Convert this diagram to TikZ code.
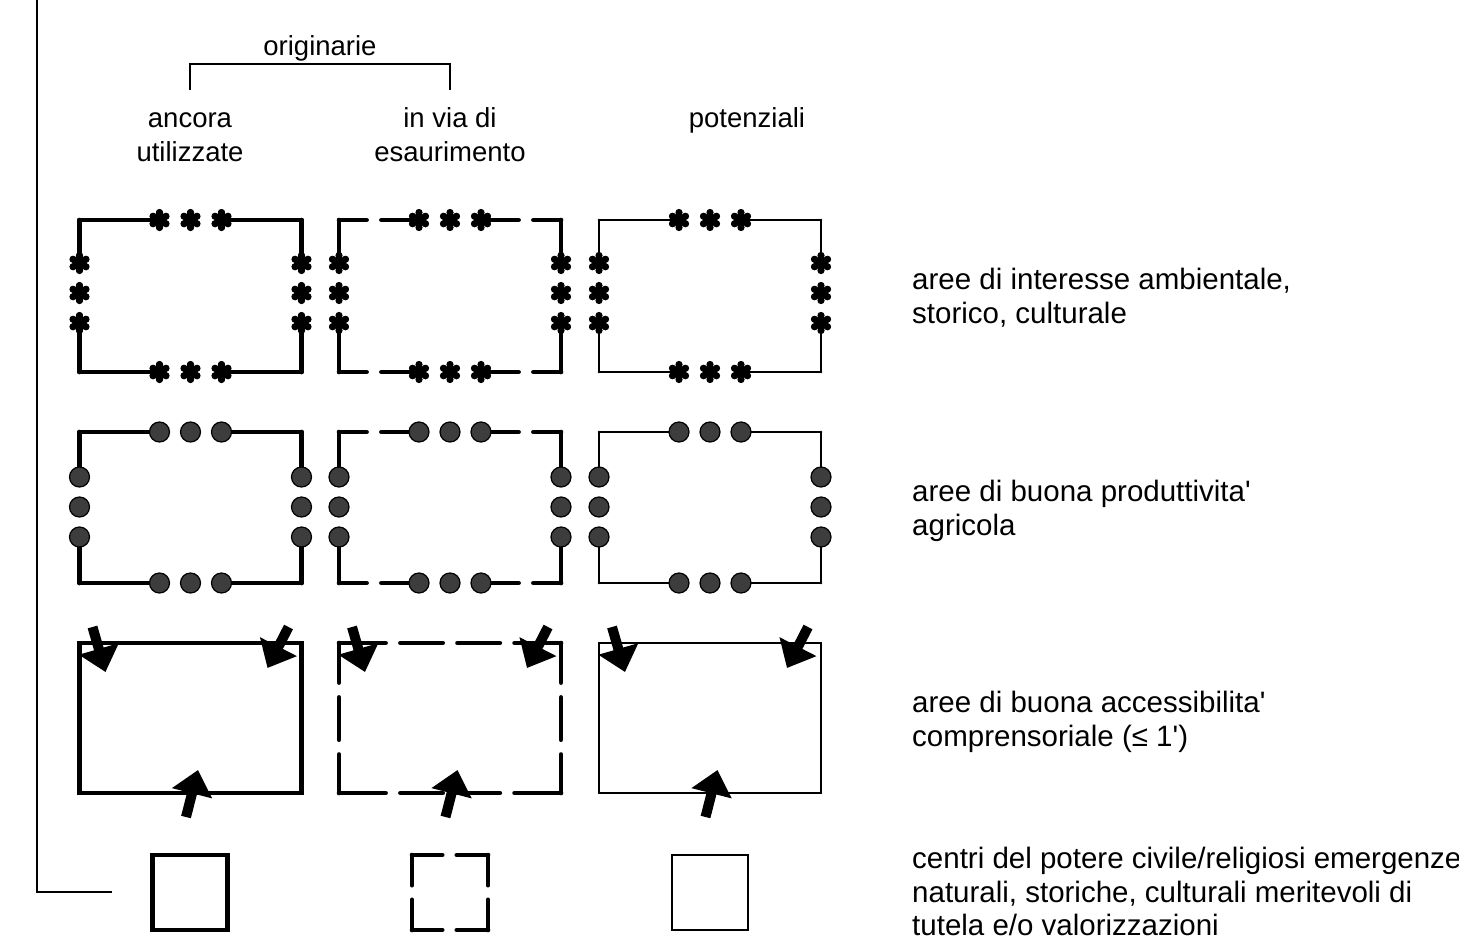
\documentclass[tikz,border=0pt]{standalone}
\usepackage{fontspec}
\setmainfont{Liberation Sans}
\usepackage{tikz}
\usetikzlibrary{arrows.meta,positioning}
\tikzstyle{spesso}     = [line width=4.7pt, line cap=round]
\tikzstyle{sottile}    = [line width=2.8pt, line cap=round]
\tikzstyle{tratteggio} = [spesso, dash pattern=on 27.6pt off 14.8pt on 400pt]
\tikzstyle{trattoH}    = [spesso, dash pattern=on 46.6pt off 14.8pt on 42.3pt off 14.8pt on 42.3pt off 14.8pt on 46.6pt]
\tikzstyle{trattoV}    = [spesso, dash pattern=on 39.6pt off 14.8pt on 42.3pt off 14.8pt on 39.6pt]
\tikzstyle{quadroD}    = [spesso, dash pattern=on 30.2pt off 14.6pt on 40pt]
\tikzstyle{stella}     = [line width=6.4pt, line cap=round]
\tikzstyle{pallino}    = [draw=black, line width=1.2pt, fill=black!76]
\tikzstyle{freccia}    = [line width=10pt, -{Triangle[width=40pt,length=24pt]}]
\tikzstyle{voce}       = [anchor=base west, inner sep=0pt, font=\fontsize{29.5}{33.5}\selectfont]
\tikzstyle{testa}      = [anchor=base, inner sep=0pt, font=\fontsize{27.5}{33}\selectfont]
\tikzstyle{graffa}     = [line width=1.3pt]
\newcommand{\asterisco}[2]{%
  \foreach \a in {90,30,150}{
    \draw[stella] (#1,#2) ++(\a:7.5) -- ++(\a+180:15);
    \fill (#1,#2) ++(\a:7.5) circle (3.6) ++(\a+180:15) circle (3.6);}}

\begin{document}
\begin{tikzpicture}[x=1pt,y=-1pt]
	\useasboundingbox (0,0) rectangle (1459,948);
	% cornice a sinistra
	\coordinate (cima) at (37,0);
	\coordinate (piede) at (112,892);
	\draw[graffa] (cima) |- (piede);
	% intestazioni
	\node[testa] (orig) at (320,55) {originarie};
	\node[testa] (anc1) at (190,127) {ancora};
	\node[testa] (anc2) at (190,161) {utilizzate};
	\node[testa] (via1) at (450,127) {in via di};
	\node[testa] (via2) at (450,161) {esaurimento};
	\node[testa] (pot) at (747,127) {potenziali};
	\coordinate (gs) at (190,90);
	\coordinate (gd) at (450,90);
	\draw[graffa] (gs) -- ++(0,-26) -| (gd);
	% riga 1: asterischi
	\foreach \cx/\stv/\sto in {190.5/spesso/spesso, 450/spesso/tratteggio, 710/sottile/sottile}{
			\draw[\sto] (\cx-111,220) -- (\cx-31,220);
			\draw[\sto] (\cx+111,220) -- (\cx+31,220);
			\draw[\sto] (\cx-111,372) -- (\cx-31,372);
			\draw[\sto] (\cx+111,372) -- (\cx+31,372);
			\draw[\stv] (\cx-111,220) -- (\cx-111,263);
			\draw[\stv] (\cx+111,220) -- (\cx+111,263);
			\draw[\stv] (\cx-111,372) -- (\cx-111,323);
			\draw[\stv] (\cx+111,372) -- (\cx+111,323);
			\foreach \dx in {-31,0,31}{\asterisco{\cx+\dx}{220}\asterisco{\cx+\dx}{372}}
			\foreach \yy in {263,293,323}{\asterisco{\cx-111}{\yy}\asterisco{\cx+111}{\yy}}
		}
	% riga 2: pallini
	\foreach \cx/\stv/\sto in {190.5/spesso/spesso, 450/spesso/tratteggio, 710/sottile/sottile}{
			\draw[\sto] (\cx-111,432) -- (\cx-31,432);
			\draw[\sto] (\cx+111,432) -- (\cx+31,432);
			\draw[\sto] (\cx-111,583) -- (\cx-31,583);
			\draw[\sto] (\cx+111,583) -- (\cx+31,583);
			\draw[\stv] (\cx-111,432) -- (\cx-111,477);
			\draw[\stv] (\cx+111,432) -- (\cx+111,477);
			\draw[\stv] (\cx-111,583) -- (\cx-111,537);
			\draw[\stv] (\cx+111,583) -- (\cx+111,537);
			\foreach \dx in {-31,0,31}{\draw[pallino] (\cx+\dx,432) circle (10); \draw[pallino] (\cx+\dx,583) circle (10);}
			\foreach \yy in {477,507,537}{\draw[pallino] (\cx-111,\yy) circle (10); \draw[pallino] (\cx+111,\yy) circle (10);}
		}
	% riga 3: frecce
	\draw[spesso, line cap=butt] (79.5,643) rectangle (301.5,793);
	\draw[trattoH] (339,643) -- (561,643);
	\draw[trattoH] (339,793) -- (561,793);
	\draw[trattoV] (339,643) -- (339,793);
	\draw[trattoV] (561,643) -- (561,793);
	\draw[sottile, line cap=butt] (599,643) rectangle (821,793);
	\foreach \cx in {190.5,450,710}{
			\draw[freccia] (\cx-98,627) -- (\cx-85,672);
			\draw[freccia] (\cx+98,627) -- (\cx+77,668);
			\draw[freccia] (\cx-4.5,817) -- (\cx+7.5,770);
		}
	% riga 4: quadrati
	\draw[spesso, line cap=butt] (152.5,855) rectangle (227.5,930);
	\draw[quadroD] (412,855) -- (488,855);
	\draw[quadroD] (412,930) -- (488,930);
	\draw[quadroD] (412,855) -- (412,930);
	\draw[quadroD] (488,855) -- (488,930);
	\draw[sottile, line cap=butt] (672,855) rectangle (748,930);
	% legenda
	\node[voce] (r1a) at (912,289) {aree di interesse ambientale,};
	\node[voce] (r1b) at (912,323) {storico, culturale};
	\node[voce] (r2a) at (912,501) {aree di buona produttivita\textquotesingle};
	\node[voce] (r2b) at (912,535) {agricola};
	\node[voce] (r3a) at (912,712) {aree di buona accessibilita\textquotesingle};
	\node[voce] (r3b) at (912,746) {comprensoriale (≤ 1\textquotesingle)};
	\node[voce] (r4a) at (912,868) {centri del potere civile/religiosi emergenze};
	\node[voce] (r4b) at (912,902) {naturali, storiche, culturali meritevoli di};
	\node[voce] (r4c) at (912,935) {tutela e/o valorizzazioni};
\end{tikzpicture}
\end{document}
